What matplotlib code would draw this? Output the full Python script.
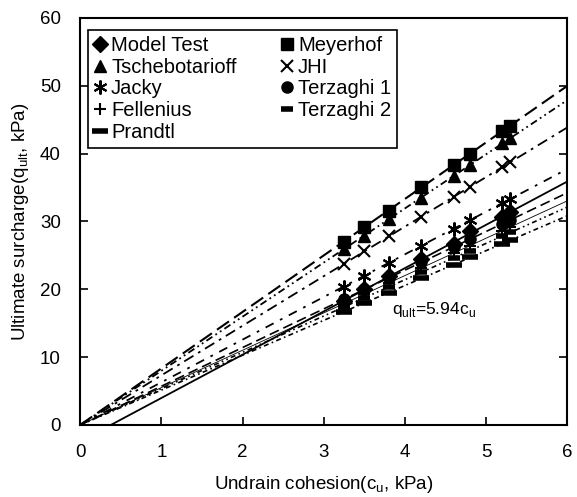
import numpy as np
import matplotlib
matplotlib.use('Agg')
import matplotlib.pyplot as plt

plt.rcParams['font.family'] = ['Liberation Sans', 'DejaVu Sans']
plt.rcParams['mathtext.fontset'] = 'custom'
plt.rcParams['mathtext.rm'] = 'Liberation Sans'

# undrained cohesion of each test (kPa)
cu = [3.25, 3.5, 3.8, 4.2, 4.6, 4.8, 5.2, 5.3]

# ultimate surcharge, measured and predicted (kPa)
model_test = [18.2, 20.0, 21.9, 24.4, 26.7, 28.6, 30.6, 31.4]
meyerhof = [27.0, 29.2, 31.5, 35.0, 38.3, 40.0, 43.4, 44.1]
tschebotarioff = [25.9, 27.9, 30.3, 33.5, 36.7, 38.3, 41.5, 42.3]
jhi = [23.7, 25.6, 27.8, 30.7, 33.6, 35.1, 38.0, 38.7]
jacky = [20.4, 22.0, 23.9, 26.4, 28.9, 30.2, 32.7, 33.3]
terzaghi1 = [18.5, 20.0, 21.7, 24.0, 26.2, 27.4, 29.6, 30.2]
fellenius = [17.9, 19.3, 20.9, 23.1, 25.3, 26.4, 28.6, 29.2]
terzaghi2 = [17.4, 18.7, 20.3, 22.5, 24.6, 25.7, 27.8, 28.4]
prandtl = [16.7, 18.0, 19.5, 21.6, 23.6, 24.7, 26.7, 27.2]

x_ticks = [0, 1, 2, 3, 4, 5, 6]
y_ticks = [0, 10, 20, 30, 40, 50, 60]

fig = plt.figure(figsize=(5.77, 4.97), dpi=100)
ax = fig.add_axes([0.139, 0.145, 0.844, 0.819])

x = np.array(cu)
xx = np.linspace(0, 6, 50)

# theoretical methods: markers plus a line through the origin
methods = [
    ('Meyerhof', meyerhof, dict(marker='s', ms=8), (0, (7, 3)), 1.5),
    ('Tschebotarioff', tschebotarioff, dict(marker='^', ms=8), (0, (4, 2, 1, 2, 1, 2)), 1.3),
    ('JHI', jhi, dict(marker='x', ms=9, mew=1.5), (0, (6, 3, 1.5, 3)), 1.3),
    ('Jacky', jacky, dict(marker=(6, 2, 0), ms=10, mew=1.5), (0, (5, 4, 1.5, 4)), 1.3),
    ('Terzaghi 1', terzaghi1, dict(marker='o', ms=8), (0, (6, 3)), 1.2),
    ('Fellenius', fellenius, dict(marker='+', ms=9, mew=1.5), '-', 0.6),
    ('Terzaghi 2', terzaghi2, dict(marker='_', ms=8, mew=4), (0, (3, 2, 1, 2, 1, 2)), 1.2),
    ('Prandtl', prandtl, dict(marker='_', ms=11, mew=4), (0, (3, 2, 1, 2)), 1.2),
]

handles = {}
for name, q, mk, ls, lw in methods:
    q = np.array(q)
    slope = np.sum(x * q) / np.sum(x * x)
    ax.plot(xx, slope * xx, color='black', ls=ls, lw=lw)
    h, = ax.plot(x, q, ls='none', color='black', **mk)
    handles[name] = h

# measured values with their regression line
coef = np.polyfit(x, model_test, 1)
x0 = -coef[1] / coef[0]
xs = np.array([x0, 6])
ax.plot(xs, np.polyval(coef, xs), color='black', lw=1.3)
h, = ax.plot(x, model_test, ls='none', color='black', marker='D', ms=8)
handles['Model Test'] = h

ax.text(3.84, 16.3, r'q$_{\rm ult}$=5.94c$_{\rm u}$', fontsize=12.5)

order = ['Model Test', 'Tschebotarioff', 'Jacky', 'Fellenius', 'Prandtl',
         'Meyerhof', 'JHI', 'Terzaghi 1', 'Terzaghi 2']
leg = ax.legend([handles[k] for k in order], order, ncol=2, loc='upper left',
                mode='expand', bbox_to_anchor=(0.016, 0.683, 0.635, 0.287),
                borderaxespad=0, fontsize=14.5, handlelength=0.6,
                handletextpad=0.25, columnspacing=0.6, labelspacing=0.13,
                borderpad=0.3, fancybox=False, framealpha=1, edgecolor='black')
leg.get_frame().set_linewidth(1.2)

ax.set_xlim(0, 6)
ax.set_ylim(0, 60)
ax.set_xticks(x_ticks)
ax.set_yticks(y_ticks)
ax.tick_params(direction='in', length=6, width=1.2, labelsize=13.5, right=True)
ax.tick_params(axis='x', pad=14)
ax.tick_params(axis='y', pad=14)
for s in ax.spines.values():
    s.set_linewidth(1.5)

ax.set_xlabel(r'Undrain cohesion(c$_{\rm u}$, kPa)', fontsize=13.5, labelpad=9)
ax.set_ylabel(r'Ultimate surcharge(q$_{\rm ult}$, kPa)', fontsize=13.5, labelpad=6)

fig.savefig('out.png', dpi=100)
